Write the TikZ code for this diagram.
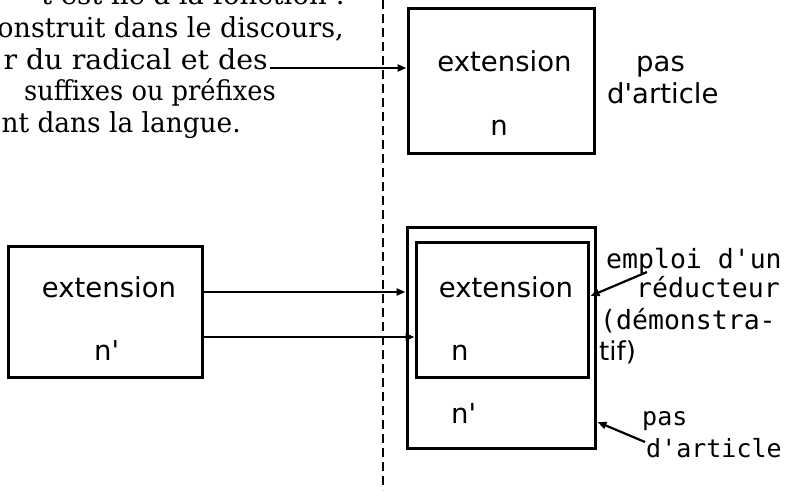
\documentclass[tikz,border=0pt]{standalone}
\usepackage{fontspec}
\setmainfont{DejaVu Serif}
\newfontfamily\boxfont[Ligatures=TeXOff]{DejaVu Sans}
\newfontfamily\monofont[Ligatures=TeXOff]{DejaVu Sans Mono}
\usetikzlibrary{arrows.meta}

\begin{document}
\begin{tikzpicture}[x=1pt,y=-1pt,
  frame/.style={draw, line width=3pt, inner sep=0pt},
  link/.style={line width=2.2pt, -{Triangle[length=9pt,width=7pt]}},
  divider/.style={line width=2.2pt, dash pattern=on 9pt off 5pt},
  para/.style={anchor=base east, inner sep=0pt, font=\fontsize{27.5}{30}\selectfont},
  lbl/.style={inner sep=0pt, font=\boxfont\fontsize{27.5}{30}\selectfont},
  note/.style={anchor=base west, inner sep=0pt, font=\monofont\fontsize{26.5}{30}\selectfont},
  smallnote/.style={anchor=base west, inner sep=0pt, font=\monofont\fontsize{25}{30}\selectfont},
]
\useasboundingbox (0,0) rectangle (787,490);
\begin{scope}
\clip (0,0) rectangle (787,490);

% paragraph on the left (runs off the edge)
\node[para] (l1) at (345,4)   {t est lié à la fonction :};
\node[para] (l2) at (344,37)  {\scalebox{0.98}[1]{onstruit dans le discours,}};
\node[para] (l3) at (268,69)  {\scalebox{1.035}[1]{r du radical et des}};
\node[para] (l4) at (276,100) {\scalebox{0.935}[1]{suffixes ou préfixes}};
\node[para] (l5) at (241,132) {\scalebox{0.96}[1]{nt dans la langue.}};

% vertical dashed divider
\coordinate (divtop) at (383,0);
\coordinate (divbot) at (383,490);
\draw[divider] (divtop) -- (divbot);

% boxes
\node[frame, minimum width=186pt, minimum height=145pt] (topbox) at (501,80.5) {};
\node[frame, minimum width=194pt, minimum height=131pt] (leftbox) at (105,311.5) {};
\node[frame, minimum width=188pt, minimum height=221pt] (outer) at (501,337.5) {};
\node[frame, minimum width=172pt, minimum height=135pt] (inner) at (502,309.5) {};

% box contents
\node[lbl, anchor=base] (tx1) at (504.5,71) {extension};
\node[lbl, anchor=base] (tn1) at (499,135) {n};
\node[lbl, anchor=base] (lx) at (109,297) {extension};
\node[lbl, anchor=base west] (ln) at (94,360) {n'};
\node[lbl, anchor=base] (ix) at (506,297) {extension};
\node[lbl, anchor=base west] (in) at (451,360) {n};
\node[lbl, anchor=base west] (on) at (451,423) {n'};

% labels on the right
\node[lbl, anchor=base west] (pas1) at (636,71) {pas};
\node[lbl, anchor=base west] (art1) at (607,103) {d'article};
\node[note] (r1) at (606,268) {emploi d'un};
\node[note] (r2) at (636,297) {réducteur};
\node[note] (r3) at (600,329) {(démonstra-};
\node[lbl, anchor=base west, font=\boxfont\fontsize{26}{30}\selectfont] (r4) at (599,360) {tif)};
\node[smallnote] (pas2) at (642,425) {pas};
\node[smallnote] (art2) at (646,457) {d'article};

% connectors
\coordinate (y1) at (0,68);
\coordinate (y2) at (0,292);
\coordinate (y3) at (0,337);
\coordinate (y4) at (0,296);
\coordinate (y5) at (0,422);
\coordinate (s1) at (647,272);
\coordinate (s2) at (645,442);
\draw[link] ([xshift=2pt]l3.east |- y1) -- (topbox.west |- y1);
\draw[link] (leftbox.east |- y2) -- (outer.west |- y2);
\draw[link] (leftbox.east |- y3) -- (inner.west |- y3);
\draw[link] (s1) -- ([xshift=1pt]inner.east |- y4);
\draw[link] (s2) -- ([xshift=1pt]outer.east |- y5);
\end{scope}
\end{tikzpicture}
\end{document}
